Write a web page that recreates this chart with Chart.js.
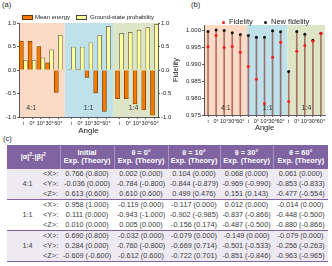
<!DOCTYPE html>
<html>
<head>
<meta charset="utf-8">
<script src="https://cdn.jsdelivr.net/npm/chart.js"></script>
<style>
body { margin: 0; width: 332px; height: 266px; background: #fff; position: relative; overflow: hidden; font-family: "Liberation Sans", Arial, sans-serif; color: #222; }
.lab { position: absolute; font-size: 7.5px; line-height: 8px; }
canvas { position: absolute; top: 0; }
#ca { left: 0; }
#cb { left: 165px; }
.leg { position: absolute; white-space: nowrap; }
.box { position: absolute; box-sizing: border-box; border: 0.8px solid #444; }
.dot { position: absolute; width: 3px; height: 3px; border-radius: 50%; }
#tbl { position: absolute; left: 7px; top: 145px; width: 321px; border-collapse: collapse; table-layout: fixed; font-size: 7.3px; color: #3c3c3c; }
#tbl th { background: #8064a2; color: #fff; font-weight: bold; line-height: 8px; padding: 3.5px 0; border-left: 1px solid #a996c3; text-align: center; vertical-align: middle; white-space: nowrap; }
#tbl th:first-child { border-left: none; }
#tbl td { height: 10px; line-height: 10px; padding: 0; text-align: center; white-space: nowrap; }
#tbl td.ratio { padding-left: 5px; }
#tbl td.comp { text-align: left; }
#tbl tbody { border-top: 1px solid #8064a2; }
#tbl tbody.tint td { background: #eeeaf3; }
#tbl tbody:last-child { border-bottom: 1px solid #8064a2; }
</style>
</head>
<body>
<div class="lab" style="left:2px;top:1px">(a)</div>
<div class="lab" style="left:191px;top:1px">(b)</div>
<div class="lab" style="left:3px;top:135px">(c)</div>

<canvas id="ca" width="175" height="136"></canvas>
<canvas id="cb" width="167" height="132"></canvas>

<div class="box" style="left:22px;top:14.5px;width:11px;height:5px;background:#f27a00;border-color:#6b3400"></div>
<div class="leg" style="left:35px;top:13px;font-size:6px;line-height:8px">Mean energy</div>
<div class="box" style="left:76px;top:14.5px;width:11px;height:5px;background:#ffff99"></div>
<div class="leg" style="left:90px;top:13px;font-size:6px;line-height:8px">Ground-state probability</div>

<div class="dot" style="left:222px;top:20.5px;background:#ff1a1a"></div>
<div class="leg" style="left:229px;top:17px;font-size:7.5px;line-height:9px">Fidelity</div>
<div class="dot" style="left:264px;top:20.5px;background:#111"></div>
<div class="leg" style="left:271px;top:17px;font-size:7.5px;line-height:9px">New fidelity</div>

<table id="tbl"></table>

<script>
// ---- data ----
const angles = ['i', '0°', '10°', '30°', '60°']
const ratios = ['4:1', '1:1', '1:4']

// panel (a)
const meanEnergy = [0.613, 0.610, 0.499, 0.151, -0.477,
                    0.010, 0.005, -0.156, -0.487, -0.880,
                    -0.609, -0.612, -0.722, -0.851, -0.963]
const groundProb = [0.20, 0.20, 0.26, 0.43, 0.74,
                    0.49, 0.49, 0.58, 0.74, 0.93,
                    0.78, 0.80, 0.85, 0.90, 0.97]

// panel (b)
const fidelity = [0.9951, 0.9984, 0.9949, 0.9952, 0.9935,
                  0.9893, 0.9855, 0.9784, 0.9920, 0.9964,
                  0.9790, 0.9938, 0.9955, 0.9967, 0.9990]
const newFidelity = [0.9996, 1.0000, 0.9999, 0.9992, 0.9987,
                     0.9984, 0.9979, 0.9979, 0.9998, 0.9995,
                     0.9878, 0.9996, 0.9988, 0.9970, 0.9991]

// panel (c): rows <X>, <Y>, <Z>; columns Initial, 0°, 10°, 30°, 60°
const colHeads = ['Initial', 'θ = 0°', 'θ = 10°', 'θ = 30°', 'θ = 60°']
const comps = ['<X>:', '<Y>:', '<Z>:']
const exp41 = [[0.766, 0.002, 0.104, 0.068, 0.061],
               [-0.036, -0.784, -0.844, -0.969, -0.853],
               [0.613, 0.610, 0.499, 0.151, -0.477]]
const theo41 = [[0.800, 0.000, 0.000, 0.000, 0.000],
                [0.000, -0.800, -0.879, -0.990, -0.833],
                [0.600, 0.600, 0.476, 0.143, -0.554]]
const exp11 = [[0.958, -0.119, -0.117, 0.012, -0.014],
               [0.111, -0.943, -0.902, -0.837, -0.448],
               [0.010, 0.005, -0.156, -0.487, -0.880]]
const theo11 = [[1.000, 0.000, 0.000, 0.000, 0.000],
                [0.000, -1.000, -0.985, -0.866, -0.500],
                [0.000, 0.000, 0.174, -0.500, -0.866]]
const exp14 = [[0.690, -0.032, -0.079, -0.149, -0.079],
               [0.284, -0.760, -0.669, -0.501, -0.256],
               [-0.609, -0.612, -0.722, -0.851, -0.963]]
const theo14 = [[0.800, 0.000, 0.000, 0.000, 0.000],
                [0.000, -0.800, 0.714, -0.533, -0.263],
                [-0.600, 0.600, 0.701, -0.846, -0.965]]

Chart.defaults.font.family = '"Liberation Sans", Arial, sans-serif'
Chart.defaults.color = '#222'

// coloured ratio regions + ratio labels
const sections = {
  id: 'sections',
  beforeDraw(chart, args, opts) {
    const {ctx, chartArea: a} = chart
    const xs = chart.scales.x
    const edges = [a.left, ...opts.bounds.map(b => xs.getPixelForValue(b)), a.right]
    ctx.save()
    for (let i = 0; i < 3; i++) {
      ctx.fillStyle = opts.colors[i]
      ctx.fillRect(edges[i], a.top, edges[i + 1] - edges[i], a.bottom - a.top)
    }
    ctx.restore()
  },
  afterDatasetsDraw(chart, args, opts) {
    const {ctx} = chart
    ctx.save()
    ctx.fillStyle = '#333'
    ctx.font = '7px "Liberation Sans", Arial'
    ctx.textAlign = 'center'
    ctx.textBaseline = 'middle'
    ratios.forEach((r, i) => {
      ctx.fillText(r, chart.scales.x.getPixelForValue(opts.labelX[i]), chart.scales.y.getPixelForValue(opts.labelY))
    })
    ctx.restore()
  }
}
const regionColors = ['#fbdac6', '#bee1ea', '#dee5c6']

// ---- (a) bar chart ----
const xOf = i => Math.floor(i / 5) * 5.5 + i % 5
const tickPos = meanEnergy.map((v, i) => xOf(i))
const axisLine = {color: '#333', width: 0.8}
const tickGrid = {drawOnChartArea: false, tickLength: 2, color: '#333', lineWidth: 0.8, offset: false}

new Chart(document.getElementById('ca'), {
  type: 'bar',
  data: {
    datasets: [{
      label: 'Mean energy',
      data: meanEnergy.map((v, i) => ({x: xOf(i), y: v})),
      backgroundColor: '#f27a00',
      borderColor: '#6b3400',
      borderWidth: 0.7,
      barThickness: 4
    }, {
      label: 'Ground-state probability',
      data: groundProb.map((v, i) => ({x: xOf(i), y: v})),
      backgroundColor: '#ffff99',
      borderColor: '#555',
      borderWidth: 0.7,
      barThickness: 4
    }]
  },
  options: {
    responsive: false,
    animation: false,
    layout: {padding: {top: 23, left: 0, right: 0, bottom: 0}},
    plugins: {
      legend: {display: false},
      tooltip: {enabled: false},
      sections: {bounds: [4.75, 10.25], colors: regionColors, labelX: [0.9, 7.45, 12.6], labelY: -0.8}
    },
    scales: {
      x: {
        type: 'linear', min: -0.5, max: 15.4, offset: false,
        afterBuildTicks: s => { s.ticks = tickPos.map(v => ({value: v})) },
        afterFit: s => { s.height = 19 },
        ticks: {callback: (v, i) => angles[i % 5], font: {size: 5.5}, padding: 1, maxRotation: 0, autoSkip: false},
        grid: tickGrid,
        border: axisLine,
        title: {display: true, text: 'Angle', font: {size: 8}, padding: 0}
      },
      y: {
        min: -1, max: 1,
        afterFit: s => { s.width = 19 },
        ticks: {stepSize: 0.5, callback: v => v.toFixed(1), font: {size: 6}, padding: 1},
        grid: tickGrid,
        border: axisLine
      },
      y2: {
        position: 'right', min: -1, max: 1,
        afterFit: s => { s.width = 17 },
        ticks: {stepSize: 0.5, callback: v => v.toFixed(1), font: {size: 6}, padding: 1},
        grid: tickGrid,
        border: axisLine
      }
    }
  },
  plugins: [sections]
})

// ---- (b) fidelity stems ----
new Chart(document.getElementById('cb'), {
  type: 'bar',
  data: {
    labels: ratios.flatMap(() => angles),
    datasets: [{
      type: 'line', label: 'Fidelity', data: fidelity, showLine: false,
      pointRadius: 1.5, pointBorderWidth: 0, pointBackgroundColor: '#ff1a1a', order: 1
    }, {
      type: 'line', label: 'New fidelity', data: newFidelity, showLine: false,
      pointRadius: 1.5, pointBorderWidth: 0, pointBackgroundColor: '#111', order: 2
    }, {
      type: 'bar', label: 'stem', data: newFidelity,
      barThickness: 1, backgroundColor: 'rgba(128,40,40,0.6)', order: 3
    }]
  },
  options: {
    responsive: false,
    animation: false,
    layout: {padding: {top: 25, left: 6, right: 7, bottom: 0}},
    plugins: {
      legend: {display: false},
      tooltip: {enabled: false},
      sections: {bounds: [4.85, 9.85], colors: regionColors, labelX: [2.2, 7.4, 12.2], labelY: 0.977}
    },
    scales: {
      x: {
        afterFit: s => { s.height = 17 },
        ticks: {font: {size: 5.5}, padding: 1, maxRotation: 0, autoSkip: false},
        grid: tickGrid,
        border: axisLine,
        title: {display: true, text: 'Angle', font: {size: 7.5}, padding: 0}
      },
      y: {
        min: 0.975, max: 1.0015,
        afterFit: s => { s.width = 33 },
        ticks: {stepSize: 0.005, includeBounds: false, callback: v => v.toFixed(3), font: {size: 6}, padding: 1},
        grid: tickGrid,
        border: axisLine,
        title: {display: true, text: 'Fidelity', font: {size: 7.5}, padding: 0}
      }
    }
  },
  plugins: [sections]
})

// ---- (c) table ----
const tbl = document.getElementById('tbl')
const cg = document.createElement('colgroup')
;[36, 17, 54, 54, 52, 53, 55].forEach(w => {
  const c = document.createElement('col')
  c.style.width = w + 'px'
  cg.appendChild(c)
})
tbl.appendChild(cg)
const thead = tbl.createTHead()
const hr = thead.insertRow()
const h0 = document.createElement('th')
h0.colSpan = 2
h0.innerHTML = '|α|<sup style="font-size:5px;line-height:0">2</sup>:|β|<sup style="font-size:5px;line-height:0">2</sup>'
hr.appendChild(h0)
colHeads.forEach(h => {
  const th = document.createElement('th')
  th.innerHTML = h + '<br>Exp. (Theory)'
  hr.appendChild(th)
})
const groups = [[exp41, theo41], [exp11, theo11], [exp14, theo14]]
groups.forEach(([ex, th], g) => {
  const tb = tbl.createTBody()
  if (g !== 1) tb.className = 'tint'
  comps.forEach((c, r) => {
    const tr = tb.insertRow()
    if (r === 0) {
      const td = tr.insertCell()
      td.rowSpan = 3
      td.className = 'ratio'
      td.textContent = ratios[g]
    }
    const tc = tr.insertCell()
    tc.className = 'comp'
    tc.textContent = c
    ex[r].forEach((v, k) => {
      tr.insertCell().textContent = v.toFixed(3) + ' (' + th[r][k].toFixed(3) + ')'
    })
  })
})
</script>
</body>
</html>
